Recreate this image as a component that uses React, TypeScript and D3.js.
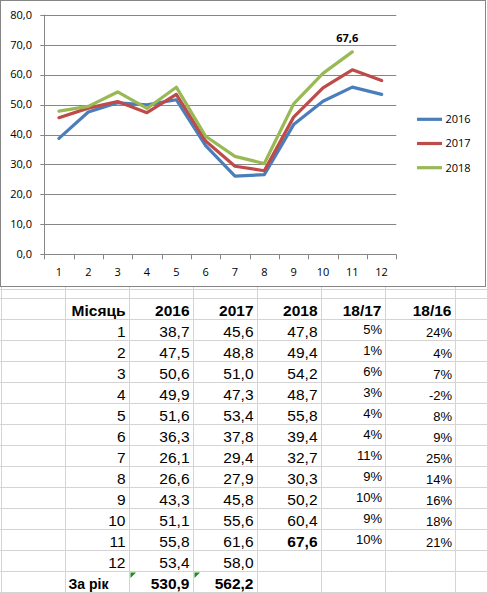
import React, { useEffect } from "react";
import * as d3 from "d3";

const months = [1, 2, 3, 4, 5, 6, 7, 8, 9, 10, 11, 12];
const series2016 = [38.7, 47.5, 50.6, 49.9, 51.6, 36.3, 26.1, 26.6, 43.3, 51.1, 55.8, 53.4];
const series2017 = [45.6, 48.8, 51.0, 47.3, 53.4, 37.8, 29.4, 27.9, 45.8, 55.6, 61.6, 58.0];
const series2018 = [47.8, 49.4, 54.2, 48.7, 55.8, 39.4, 32.7, 30.3, 50.2, 60.4, 67.6];
const ratio1817 = ["5%", "1%", "6%", "3%", "4%", "4%", "11%", "9%", "10%", "9%", "10%"];
const ratio1816 = ["24%", "4%", "7%", "-2%", "8%", "9%", "25%", "14%", "16%", "18%", "21%"];
const totals = [530.9, 562.2];
const yTicks = [0, 10, 20, 30, 40, 50, 60, 70, 80];
const seriesNames = ["2016", "2017", "2018"];
const headers = ["Місяць", "2016", "2017", "2018", "18/17", "18/16"];
const totalLabel = "За рік";

const colors = ["#4A7EBB", "#BE4B48", "#98B954"];
const fmt = (v: number) => d3.format(".1f")(v).replace(".", ",");

const W = 487;
const H = 593;

export default function App() {
  useEffect(() => {
    document.body.style.margin = "0";
  }, []);

  const x = d3.scaleBand<number>().domain(months).range([44.3, 396.3]);
  const y = d3.scaleLinear().domain([0, 80]).range([254.3, 14.7]);
  const cx = (m: number) => (x(m) as number) + x.bandwidth() / 2;
  const allSeries = [series2016, series2017, series2018];
  const line = d3
    .line<number>()
    .x((_, i) => cx(months[i]))
    .y((d) => y(d));

  // table layout
  const colEdges = [1.5, 65.5, 129.5, 193.5, 257.5, 321.5, 385.5, 455.5];
  const rowTop = 298.5;
  const rowH = 21;
  const nRows = 14; // header + 12 months + total
  const rowLines = d3.range(nRows + 1).map((i) => rowTop + i * rowH);
  const fontTable = "'Liberation Sans', Arial, sans-serif";
  const fontChart = "'Open Sans', sans-serif";
  const baseline = (r: number) => rowTop + (r + 1) * rowH - 4;

  const last = series2018.length - 1;

  return (
    <svg
      width={W}
      height={H}
      style={{ position: "absolute", left: 0, top: 0, background: "#fff" }}
    >
      {/* spreadsheet grid */}
      <g stroke="#D4D4D4" strokeWidth={1}>
        <line x1={0} x2={W} y1={289.5} y2={289.5} />
        {rowLines.map((ry) => (
          <line key={"r" + ry} x1={0} x2={W} y1={ry} y2={ry} />
        ))}
        {colEdges.map((cxe) => (
          <line key={"c" + cxe} x1={cxe} x2={cxe} y1={287} y2={H} />
        ))}
      </g>

      {/* chart area */}
      <rect x={0.5} y={0.5} width={485} height={286} fill="#fff" stroke="#868686" strokeWidth={1} />

      {/* gridlines */}
      <g stroke="#868686" strokeWidth={1}>
        {yTicks.map((t) => (
          <line key={"g" + t} x1={40.3} x2={396.3} y1={Math.round(y(t)) + 0.5} y2={Math.round(y(t)) + 0.5} />
        ))}
        <line x1={44.5} x2={44.5} y1={y(80)} y2={y(0)} />
        {months.map((m) => (
          <line key={"t" + m} x1={Math.round(x(m) as number) + 0.5} x2={Math.round(x(m) as number) + 0.5} y1={y(0)} y2={y(0) + 5} />
        ))}
        <line x1={396.5} x2={396.5} y1={y(0)} y2={y(0) + 5} />
      </g>

      {/* y labels */}
      <g fontFamily={fontChart} fontSize={11} fill="#000" textAnchor="end">
        {yTicks.map((t) => (
          <text key={"yl" + t} x={32} y={y(t)} dy="0.35em">
            {fmt(t)}
          </text>
        ))}
      </g>
      {/* x labels */}
      <g fontFamily={fontChart} fontSize={11} fill="#000" textAnchor="middle">
        {months.map((m) => (
          <text key={"xl" + m} x={cx(m)} y={272} dy="0.35em">
            {m}
          </text>
        ))}
      </g>

      {/* lines */}
      {allSeries.map((s, i) => (
        <path
          key={"s" + i}
          d={line(s) as string}
          fill="none"
          stroke={colors[i]}
          strokeWidth={3.2}
          strokeLinejoin="round"
          strokeLinecap="round"
        />
      ))}

      {/* data label */}
      <text
        x={cx(months[last]) - 5}
        y={y(series2018[last]) - 10}
        fontFamily={fontChart}
        fontSize={11}
        fontWeight="bold"
        textAnchor="middle"
        fill="#000"
      >
        {fmt(series2018[last])}
      </text>

      {/* legend */}
      {seriesNames.map((n, i) => (
        <g key={"lg" + n} transform={`translate(0, ${119.3 + i * 24.2})`}>
          <line x1={417} x2={442} y1={0} y2={0} stroke={colors[i]} strokeWidth={3.2} />
          <text x={445.5} y={0} dy="0.35em" fontFamily={fontChart} fontSize={11} fill="#000">
            {n}
          </text>
        </g>
      ))}

      {/* table header */}
      <g fontFamily={fontTable} fontSize={15.5} fontWeight="bold" fill="#000" textAnchor="end">
        {headers.map((h, i) => (
          <text key={"h" + h} x={colEdges[i + 2] - 4} y={baseline(0) + 0.5}>
            {h}
          </text>
        ))}
      </g>

      {/* table body */}
      <g fontFamily={fontTable} fontSize={15.5} fill="#000" textAnchor="end">
        {months.map((m, i) => (
          <g key={"row" + m}>
            <text x={colEdges[2] - 4} y={baseline(i + 1)}>
              {m}
            </text>
            <text x={colEdges[3] - 4} y={baseline(i + 1)}>
              {fmt(series2016[i])}
            </text>
            <text x={colEdges[4] - 4} y={baseline(i + 1)}>
              {fmt(series2017[i])}
            </text>
            {i < series2018.length && (
              <text x={colEdges[5] - 4} y={baseline(i + 1)} fontWeight={i === last ? "bold" : "normal"}>
                {fmt(series2018[i])}
              </text>
            )}
            {i < ratio1817.length && (
              <text x={colEdges[6] - 3.5} y={baseline(i + 1) - 3} fontSize={13}>
                {ratio1817[i]}
              </text>
            )}
            {i < ratio1816.length && (
              <text x={colEdges[7] - 3.5} y={baseline(i + 1)} fontSize={13}>
                {ratio1816[i]}
              </text>
            )}
          </g>
        ))}
      </g>

      {/* totals */}
      <text x={colEdges[1] + 3} y={baseline(13)} fontFamily={fontTable} fontSize={14} fontWeight="bold" fill="#000">
        {totalLabel}
      </text>
      <g fontFamily={fontTable} fontSize={15.5} fontWeight="bold" fill="#000" textAnchor="end">
        {totals.map((t, i) => (
          <text key={"tot" + i} x={colEdges[i + 3] - 4} y={baseline(13)}>
            {fmt(t)}
          </text>
        ))}
      </g>
      {totals.map((_, i) => (
        <path
          key={"tri" + i}
          d={`M${colEdges[i + 2] + 1},${rowLines[13] + 1} h5.5 L${colEdges[i + 2] + 1},${rowLines[13] + 6.5} Z`}
          fill="#1E8C1E"
        />
      ))}
    </svg>
  );
}
